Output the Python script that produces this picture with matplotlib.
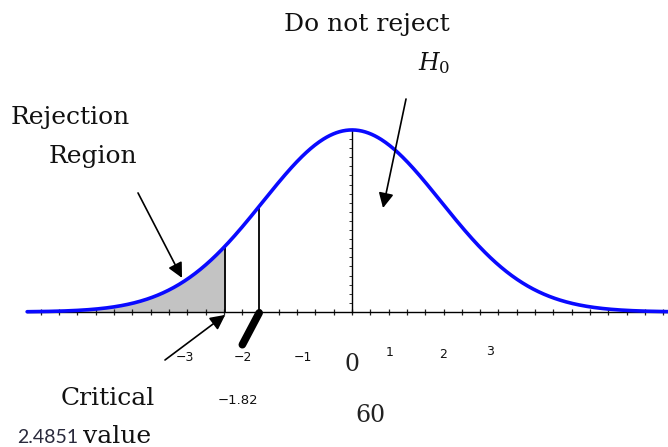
import numpy as np
import matplotlib
matplotlib.use("Agg")
import matplotlib.pyplot as plt
from matplotlib.ticker import FixedLocator, NullFormatter

# Distribution and test values
curve_sd = 1.745          # spread of the sampling distribution (axis units)
critical_value = -2.4851  # left-tail critical value
test_stat = -1.82         # observed test statistic
dof = 60
tick_values = [-3, -2, -1, 0, 1, 2, 3]
tick_labels = ["\u22123", "\u22122", "\u22121", "0", "1", "2", "3"]


def density(x):
    return np.exp(-0.5 * (np.asarray(x) / curve_sd) ** 2)


plt.rcParams["mathtext.fontset"] = "dejavuserif"

fig = plt.figure(figsize=(6.68, 4.47), dpi=100)
ax = fig.add_axes([0, 0, 1, 1])
x_left, x_right = -6.902, 6.196
ax.set_xlim(x_left, x_right)
ax.set_ylim(-0.742, 1.714)

x_start = -6.37
xs = np.linspace(x_start, x_right, 600)

# shaded rejection region
xr = xs[xs <= critical_value]
xr = np.append(xr, critical_value)
ax.fill_between(xr, 0, density(xr), color="#c3c3c3", lw=0, zorder=1)

# axes through the origin
for side in ("top", "right"):
    ax.spines[side].set_visible(False)
ax.spines["bottom"].set_position(("data", 0))
ax.spines["bottom"].set_bounds(x_start, x_right)
ax.spines["left"].set_position(("data", 0))
ax.spines["left"].set_bounds(0, 1)
for s in ("bottom", "left"):
    ax.spines[s].set_linewidth(1.0)
    ax.spines[s].set_zorder(2)

step = 0.359
xt = np.arange(-18, 18) * step
xt = xt[(xt >= x_start) & (xt <= x_right)]
ax.xaxis.set_major_locator(FixedLocator(xt))
ax.xaxis.set_major_formatter(NullFormatter())
ax.tick_params(axis="x", direction="inout", length=5, width=0.9, color="#222222")
ax.yaxis.set_major_locator(FixedLocator(np.arange(0, 1.001, 0.05)))
ax.yaxis.set_major_formatter(NullFormatter())
ax.tick_params(axis="y", direction="out", length=2.5, width=0.7, color="#333333")

# curve
ax.plot(xs, density(xs), color="#0a0aff", lw=2.6, zorder=4, solid_capstyle="round")

# vertical lines at the critical value and the test statistic
ax.vlines([critical_value, test_stat], 0, density([critical_value, test_stat]),
          color="black", lw=1.3, zorder=3)

# thick marker below the test statistic
ax.plot([test_stat, test_stat - 0.33], [-0.005, -0.18], color="black", lw=5.5,
        solid_capstyle="round", zorder=5)

# tick labels
nudges = [(-14, -46), (-7, -46), (2, -46), (0, -53), (-13, -41), (-11, -43), (-15, -40)]
for v, lab, (dx, dy) in zip(tick_values, tick_labels, nudges):
    if lab == "0":
        ax.annotate(lab, (v, 0), xytext=(dx, dy), textcoords="offset pixels",
                    ha="center", va="center", fontsize=17, family="DejaVu Serif",
                    fontweight="light", color="#222222")
    else:
        ax.annotate(lab, (v, 0), xytext=(dx, dy), textcoords="offset pixels",
                    ha="center", va="center", fontsize=9, family="DejaVu Sans",
                    color="#111111")

ax.text(test_stat - 0.41, -0.484, "\u22121.82", ha="center", va="center",
        fontsize=9.5, family="DejaVu Sans", color="#111111")
ax.text(0.353, -0.571, str(dof), ha="center", va="center", fontsize=17,
        family="DejaVu Serif", color="#222222")

serif = dict(family="DejaVu Serif", color="#111111")
ax.text(-5.53, 1.066, "Rejection", ha="center", va="center", fontsize=18, **serif)
ax.text(-5.08, 0.852, "Region", ha="center", va="center", fontsize=18, **serif)
ax.text(0.294, 1.582, "Do not reject", ha="center", va="center", fontsize=18, **serif)
ax.text(1.294, 1.37, "$H_0$", ha="left", va="center", fontsize=17, **serif)
ax.text(-4.794, -0.473, "Critical", ha="center", va="center", fontsize=18, **serif)
ax.text(-4.598, -0.72, "value", ha="center", va="baseline", fontsize=18, **serif)
ax.text(-5.97, -0.72, f"{abs(critical_value):.4f}", ha="center", va="baseline",
        fontsize=14, family="Lato", color="#2a2a3c")

arrow = dict(arrowstyle="-|>,head_length=0.9,head_width=0.45", color="black",
             lw=1.2, shrinkA=0, shrinkB=0)
ax.annotate("", xy=(-3.333, 0.187), xytext=(-4.196, 0.654), arrowprops=arrow, zorder=6)
ax.annotate("", xy=(0.608, 0.571), xytext=(1.059, 1.170), arrowprops=arrow, zorder=6)
ax.annotate("", xy=(critical_value, -0.016), xytext=(-3.667, -0.264),
            arrowprops=arrow, zorder=6)

fig.savefig("out.png", dpi=100)
